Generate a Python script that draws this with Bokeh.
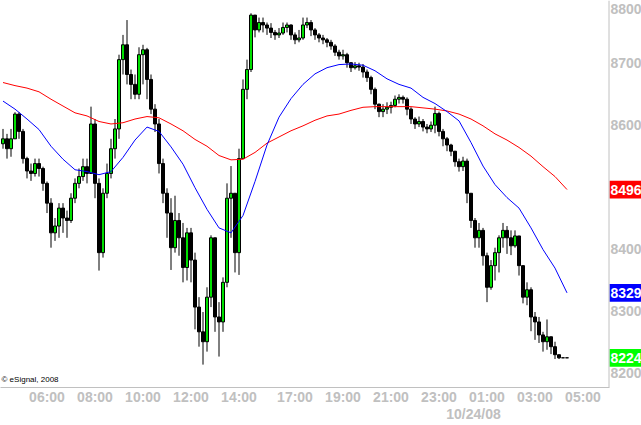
from bokeh.plotting import figure
from bokeh.models import FixedTicker, Label, Span, Range1d, LinearAxis
from bokeh.core.properties import value
from bokeh.embed import file_html
from bokeh.resources import INLINE

# ---- data: 10-minute bars, index = bar number ----
bars = list(range(142))
opens = [8570,8578,8562,8578,8618,8590,8546,8526,8522,8538,
         8530,8506,8474,8426,8437,8466,8450,8446,8482,8506,
         8517,8533,8522,8602,8506,8394,8490,8522,8562,8594,
         8706,8730,8682,8666,8650,8714,8722,8674,8626,8602,
         8538,8490,8458,8402,8446,8418,8370,8426,8382,8306,
         8266,8250,8322,8418,8290,8282,8346,8482,8490,8394,
         8546,8658,8690,8778,8754,8766,8762,8757,8750,8746,
         8749,8758,8762,8746,8738,8741,8762,8766,8754,8746,
         8741,8738,8734,8728,8718,8712,8714,8701,8693,8696,
         8694,8686,8677,8658,8634,8622,8626,8629,8632,8642,
         8645,8642,8626,8610,8602,8606,8597,8594,8600,8619,
         8590,8578,8568,8558,8541,8533,8542,8490,8446,8418,
         8430,8389,8338,8373,8394,8418,8430,8418,8405,8421,
         8373,8322,8334,8290,8282,8261,8250,8258,8242,8229,
         8224,8224]
highs = [8594,8586,8594,8621,8621,8594,8549,8538,8546,8546,
         8533,8509,8482,8450,8474,8474,8462,8490,8514,8530,
         8546,8546,8630,8610,8514,8498,8538,8578,8610,8714,
         8746,8770,8690,8682,8726,8730,8725,8682,8634,8610,
         8546,8498,8482,8486,8458,8442,8434,8434,8394,8322,
         8298,8338,8422,8418,8314,8354,8506,8534,8490,8562,
         8674,8706,8781,8778,8774,8774,8766,8765,8754,8757,
         8766,8766,8763,8750,8754,8774,8774,8770,8757,8749,
         8746,8741,8738,8731,8722,8722,8717,8702,8702,8701,
         8699,8690,8680,8661,8635,8634,8637,8638,8648,8650,
         8648,8645,8629,8613,8614,8610,8602,8606,8630,8622,
         8594,8581,8570,8558,8546,8549,8546,8490,8450,8442,
         8434,8394,8382,8402,8422,8442,8437,8430,8430,8421,
         8373,8346,8338,8298,8290,8266,8286,8258,8250,8229,
         8224,8224]
lows = [8562,8546,8549,8578,8578,8538,8514,8510,8517,8517,
        8494,8458,8402,8413,8418,8426,8418,8442,8474,8498,
        8510,8506,8522,8482,8365,8386,8482,8514,8546,8578,
        8682,8666,8642,8642,8642,8666,8642,8618,8589,8522,
        8474,8418,8366,8394,8389,8346,8349,8346,8270,8242,
        8213,8234,8306,8266,8226,8266,8338,8418,8362,8358,
        8546,8642,8686,8742,8750,8750,8746,8741,8738,8741,
        8746,8750,8738,8731,8734,8738,8757,8744,8738,8734,
        8731,8726,8722,8712,8706,8706,8693,8686,8690,8688,
        8677,8670,8650,8626,8613,8613,8618,8619,8629,8635,
        8635,8616,8602,8594,8597,8590,8587,8589,8587,8582,
        8566,8558,8550,8533,8525,8526,8474,8434,8402,8402,
        8373,8314,8334,8349,8362,8402,8392,8390,8402,8357,
        8312,8309,8267,8253,8248,8234,8237,8230,8222,8222,
        8224,8224]
closes = [8578,8562,8578,8618,8590,8546,8526,8522,8538,8530,
          8506,8474,8426,8437,8466,8450,8446,8482,8506,8517,
          8533,8522,8602,8506,8394,8490,8522,8562,8594,8706,
          8730,8682,8666,8650,8714,8722,8674,8626,8602,8538,
          8490,8458,8402,8446,8418,8370,8426,8382,8306,8266,
          8250,8322,8418,8290,8282,8346,8482,8490,8394,8546,
          8658,8690,8778,8754,8766,8762,8757,8750,8746,8749,
          8758,8762,8746,8738,8741,8762,8766,8754,8746,8741,
          8738,8734,8728,8718,8712,8714,8701,8693,8696,8694,
          8686,8677,8658,8634,8622,8626,8629,8632,8642,8645,
          8642,8626,8610,8602,8606,8597,8594,8600,8619,8590,
          8578,8568,8558,8541,8533,8542,8490,8446,8418,8430,
          8389,8338,8373,8394,8418,8430,8418,8405,8421,8373,
          8322,8334,8290,8282,8261,8250,8258,8242,8229,8224,
          8224,8224]

ma_bars = [0,3,6,9,12,15,18,21,24,27,30,33,36,39,42,45,48,51,54,57,
           60,63,66,69,72,75,78,81,84,87,90,93,96,99,102,105,108,111,114,117,
           120,123,126,129,132,135,138,141]
ma_blue = [8639,8626,8610,8593,8566,8545,8528,8525,8520,8525,
           8548,8576,8597,8590,8565,8537,8499,8464,8434,8426,
           8454,8509,8568,8613,8643,8666,8683,8693,8698,8699,
           8697,8688,8675,8666,8660,8645,8635,8622,8607,8572,
           8534,8504,8483,8466,8434,8399,8369,8329]
ma_red = [8669,8664,8660,8654,8642,8631,8620,8615,8606,8602,
          8604,8610,8614,8612,8602,8591,8577,8566,8551,8544,
          8545,8556,8571,8581,8591,8599,8608,8615,8618,8624,
          8629,8630,8630,8630,8630,8628,8626,8623,8618,8610,
          8599,8586,8576,8564,8550,8533,8517,8496]

time_ticks = [11, 23, 35, 47, 59, 73, 85, 97, 109, 121, 133, 145]
time_labels = ["06:00", "08:00", "10:00", "12:00", "14:00", "17:00",
               "19:00", "21:00", "23:00", "01:00", "03:00", "05:00"]
date_tick = 117.625
date_text = "10/24/08"
price_ticks = [8200, 8300, 8400, 8500, 8600, 8700]
top_price_tick = 8800
credit_text = "\u00a9 eSignal, 2008"

GRAY = "#c0c0c0"
FONT = "Liberation Sans"

# layout constants (bar-index units)
X0, X_SCALE_EDGE, X_END = -0.625, 151.5, 159.625
X_LABEL = 151.875
X_TAG_L = 151.625
TAG_HALF = 14.4  # half tag height in price units

p = figure(width=641, height=425,
           x_range=Range1d(X0, X_END), y_range=Range1d(8176, 8801.6),
           output_backend="svg", toolbar_location=None, y_axis_location=None,
           min_border_left=0, min_border_top=0, min_border_right=0, min_border_bottom=34)
p.outline_line_color = None
p.grid.visible = False
p.background_fill_color = "white"
p.border_fill_color = "white"

ax = p.xaxis[0]
ax.bounds = (X0, X_SCALE_EDGE)
ax.axis_line_color = GRAY
ax.major_tick_line_color = None
ax.minor_tick_line_color = None
ax.major_tick_in = 0
ax.major_tick_out = 0
ax.minor_tick_in = 0
ax.minor_tick_out = 0
ax.major_label_text_color = GRAY
ax.major_label_text_font = FONT
ax.major_label_text_font_size = "14px"
ax.major_label_text_font_style = "bold"
ax.major_label_text_line_height = 1.1
ax.major_label_standoff = 1
ax.ticker = FixedTicker(ticks=time_ticks + [date_tick])
overrides = {t: l for t, l in zip(time_ticks, time_labels)}
overrides[date_tick] = "\n" + date_text
ax.major_label_overrides = overrides

# plain bottom rule
ax2 = LinearAxis(ticker=FixedTicker(ticks=[]), axis_line_color=GRAY,
                 major_tick_line_color=None, minor_tick_line_color=None,
                 major_tick_in=0, major_tick_out=0, minor_tick_in=0, minor_tick_out=0,
                 major_label_standoff=0, major_label_text_font_size="1px")
p.add_layout(ax2, "below")

# candles
up = [i for i in bars if closes[i] >= opens[i]]
dn = [i for i in bars if closes[i] < opens[i]]
p.segment(x0=bars, y0=highs, x1=bars, y1=lows, line_color="black", line_width=1)
p.vbar(x=dn, width=0.75, top=[opens[i] for i in dn], bottom=[closes[i] for i in dn],
       fill_color="black", line_color="black", line_width=1)
p.vbar(x=up, width=0.75, top=[closes[i] for i in up], bottom=[opens[i] for i in up],
       fill_color="#00e000", line_color="black", line_width=1)

# moving averages
p.line(ma_bars, ma_red, line_color="#ff0000", line_width=1)
p.line(ma_bars, ma_blue, line_color="#0000ff", line_width=1)

# price scale at the right
p.add_layout(Span(location=X_SCALE_EDGE, dimension="height", line_color=GRAY, line_width=1))
p.text(x=[X_LABEL] * len(price_ticks), y=price_ticks, text=[str(v) for v in price_ticks],
       text_color=GRAY, text_font=value(FONT), text_font_size="14px", text_font_style="bold",
       text_align="left", text_baseline="middle")
# top label nudged down so that it stays fully inside the page
p.text(x=[X_LABEL], y=[top_price_tick], text=[str(top_price_tick)], y_offset=8,
       text_color=GRAY, text_font=value(FONT), text_font_size="14px", text_font_style="bold",
       text_align="left", text_baseline="middle")

tag_vals = [ma_red[-1], ma_blue[-1], closes[-1]]
tag_cols = ["#ff0000", "#0000ff", "#00ff00"]
p.quad(left=[X_TAG_L] * 3, right=[X_END] * 3,
       top=[v + TAG_HALF for v in tag_vals], bottom=[v - TAG_HALF for v in tag_vals],
       fill_color=tag_cols, line_color=None)
p.text(x=[X_LABEL] * 3, y=tag_vals, text=[str(v) for v in tag_vals],
       text_color="white", text_font=value(FONT), text_font_size="14px", text_font_style="bold",
       text_align="left", text_baseline="middle")

p.add_layout(Label(x=-0.375, y=8188.8, text=credit_text, text_color="black",
                   text_font=FONT, text_font_size="8px",
                   text_align="left", text_baseline="middle"))

open("out.html", "w").write(file_html(p, INLINE))
